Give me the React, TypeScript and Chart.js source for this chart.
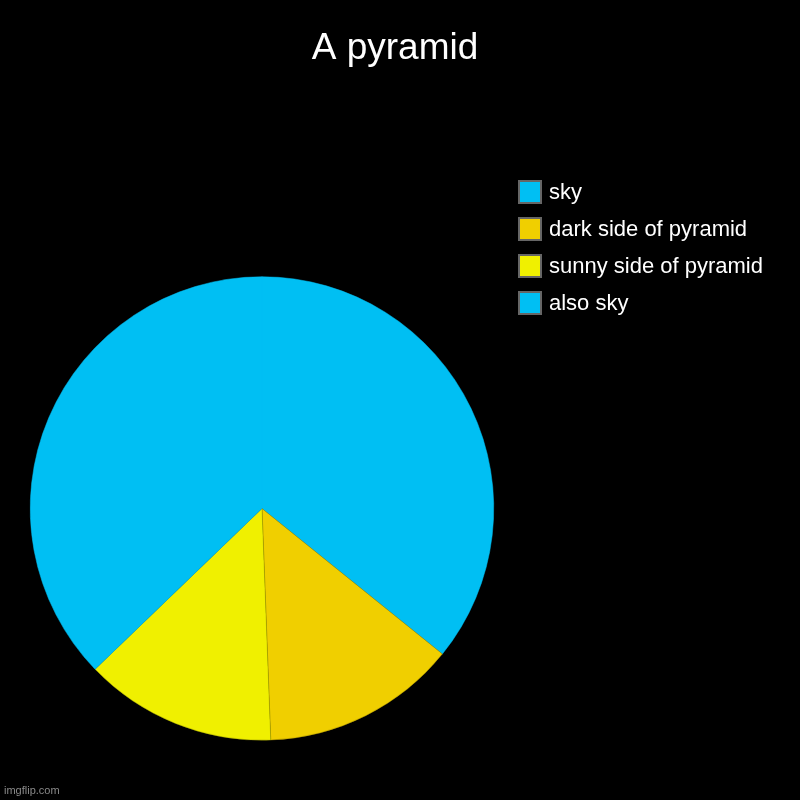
import React, { useEffect, useRef } from "react";
import { Chart, registerables } from "chart.js";

Chart.register(...registerables);

const titleText = "A pyramid";
const categories = ["sky", "dark side of pyramid", "sunny side of pyramid", "also sky"];
const values = [35.8, 13.6, 13.4, 37.2];
const colors = ["#00BFF3", "#F0CF00", "#F0F000", "#00BFF3"];
const borderColors = ["#00BFF3", "rgba(150,130,0,0.8)", "rgba(150,150,0,0.8)", "#00BFF3"];
const watermark = "imgflip.com";

const FONT = "'Liberation Sans', Arial, sans-serif";

const overlay = {
  id: "overlay",
  afterDraw(chart: any) {
    const ctx = chart.ctx;
    const labels = chart.data.labels as string[];
    const bg = chart.data.datasets[0].backgroundColor as string[];
    ctx.save();
    // title
    ctx.fillStyle = "#ffffff";
    ctx.font = `37px ${FONT}`;
    ctx.textAlign = "center";
    ctx.textBaseline = "alphabetic";
    ctx.fillText(titleText, 395, 59);
    // legend
    const x0 = 518;
    const y0 = 180;
    const step = 37;
    const size = 24;
    labels.forEach((lab, i) => {
      const y = y0 + i * step;
      ctx.fillStyle = "#666666";
      ctx.fillRect(x0, y, size, size);
      ctx.fillStyle = bg[i];
      ctx.fillRect(x0 + 2, y + 2, size - 4, size - 4);
      ctx.fillStyle = "#ffffff";
      ctx.font = `22px ${FONT}`;
      ctx.textBaseline = "middle";
      ctx.textAlign = "left";
      ctx.fillText(lab, 549, y + size / 2 + 1);
    });
    ctx.fillStyle = "#8a8a8a";
    ctx.font = `11px ${FONT}`;
    ctx.textBaseline = "alphabetic";
    ctx.textAlign = "left";
    ctx.fillText(watermark, 4, 794);
    ctx.restore();
  },
};

export default function App() {
  const ref = useRef<HTMLCanvasElement | null>(null);
  useEffect(() => {
    if (!ref.current) return;
    const chart = new Chart(ref.current, {
      type: "pie",
      data: {
        labels: categories,
        datasets: [
          {
            data: values,
            backgroundColor: colors,
            borderColor: borderColors,
            borderWidth: 0.5,
          },
        ],
      },
      options: {
        responsive: false,
        animation: false,
        layout: { padding: { left: 30, right: 306, top: 276, bottom: 59 } },
        plugins: {
          legend: { display: false },
          tooltip: { enabled: false },
          title: { display: false },
        },
      },
      plugins: [overlay],
    });
    return () => chart.destroy();
  }, []);
  return (
    <div style={{ position: "absolute", left: 0, top: 0, width: 800, height: 800, background: "#000" }}>
      <canvas ref={ref} width={800} height={800} style={{ width: 800, height: 800, display: "block" }} />
    </div>
  );
}
